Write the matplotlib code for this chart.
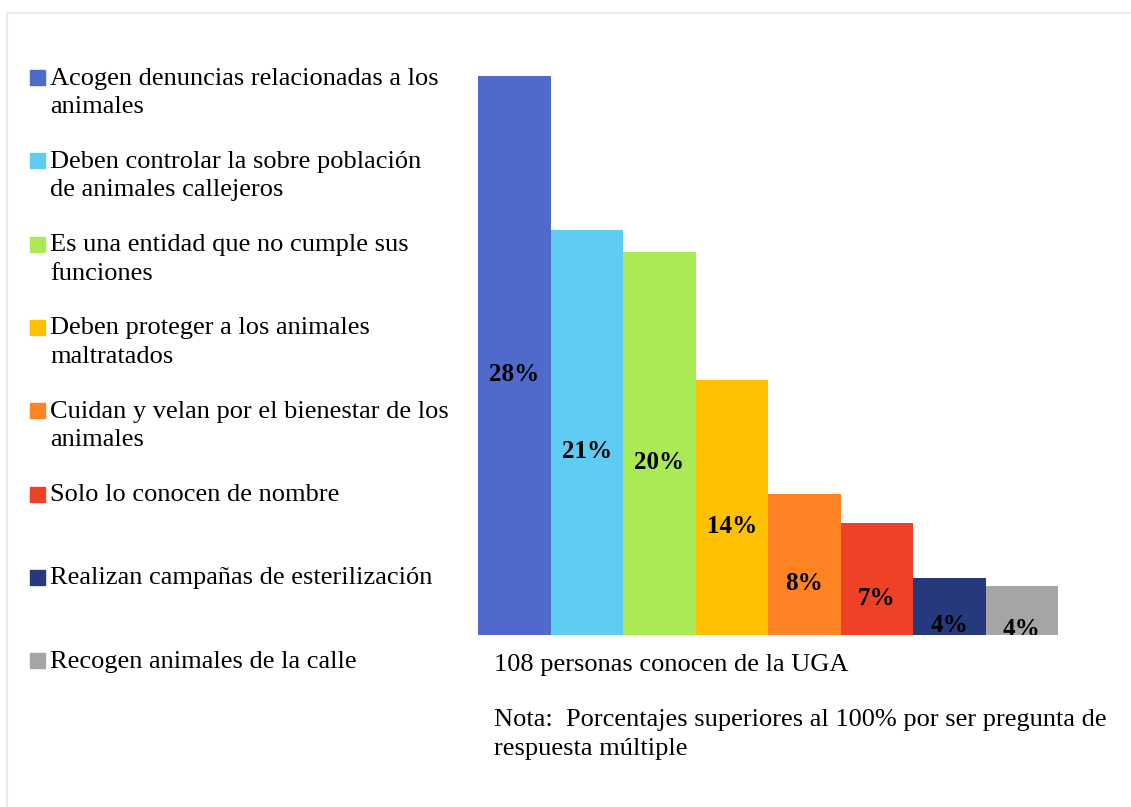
import matplotlib
matplotlib.use("Agg")
import matplotlib.pyplot as plt
from matplotlib.patches import Rectangle

# ── datos ──
categories = [
    "Acogen denuncias relacionadas a los\nanimales",
    "Deben controlar la sobre población\nde animales callejeros",
    "Es una entidad que no cumple sus\nfunciones",
    "Deben proteger a los animales\nmaltratados",
    "Cuidan y velan por el bienestar de los\nanimales",
    "Solo lo conocen de nombre",
    "Realizan campañas de esterilización",
    "Recogen animales de la calle",
]
values = [28.0, 20.7, 19.65, 13.6, 8.2, 6.8, 4.2, 3.8]
value_labels = ["28%", "21%", "20%", "14%", "8%", "7%", "4%", "4%"]
colors = ["#4F6ACB", "#5FCDF3", "#AAEA55", "#FFC000", "#FF8322",
          "#EF4125", "#25397C", "#A5A5A5"]

plt.rcParams["font.family"] = ["Liberation Serif", "DejaVu Serif"]

W, H = 1131, 807
fig = plt.figure(figsize=(W / 100, H / 100), dpi=100)

# borde tenue del gráfico
fig.patches.append(Rectangle((7 / W, -0.01), 1.02, 1 - 13 / H + 0.01,
                             transform=fig.transFigure, fill=False,
                             edgecolor="#EBEBEB", linewidth=1.5))

ax = fig.add_axes([478 / W, 1 - 635 / H, 580 / W, 575 / H])
x = range(len(values))
ax.bar(x, values, width=1.0, color=colors)
ax.set_xlim(-0.5, len(values) - 0.5)
ax.set_ylim(1.5, 1.5 + 575 / 21.1)
ax.axis("off")

for i, (v, lab) in enumerate(zip(values, value_labels)):
    ax.text(i, v / 2 - 0.15, lab, ha="center", va="center", fontsize=18,
            fontweight="bold", clip_on=True)

# leyenda manual
y0 = 77.5
step = 83.3
for i, (cat, col) in enumerate(zip(categories, colors)):
    yc = y0 + i * step
    fig.patches.append(Rectangle((30 / W, 1 - (yc + 7.5) / H), 15 / W, 15 / H,
                                 transform=fig.transFigure, color=col))
    fig.text(50 / W, 1 - (yc - 10) / H, cat, ha="left", va="top",
             fontsize=19, linespacing=1.38)

fig.text(494 / W, 1 - 665 / H, "108 personas conocen de la UGA",
         ha="left", va="center", fontsize=19)
fig.text(494 / W, 1 - (718 - 9) / H,
         "Nota:  Porcentajes superiores al 100% por ser pregunta de\nrespuesta múltiple",
         ha="left", va="top", fontsize=19, linespacing=1.42)

fig.savefig("out.png", dpi=100)
